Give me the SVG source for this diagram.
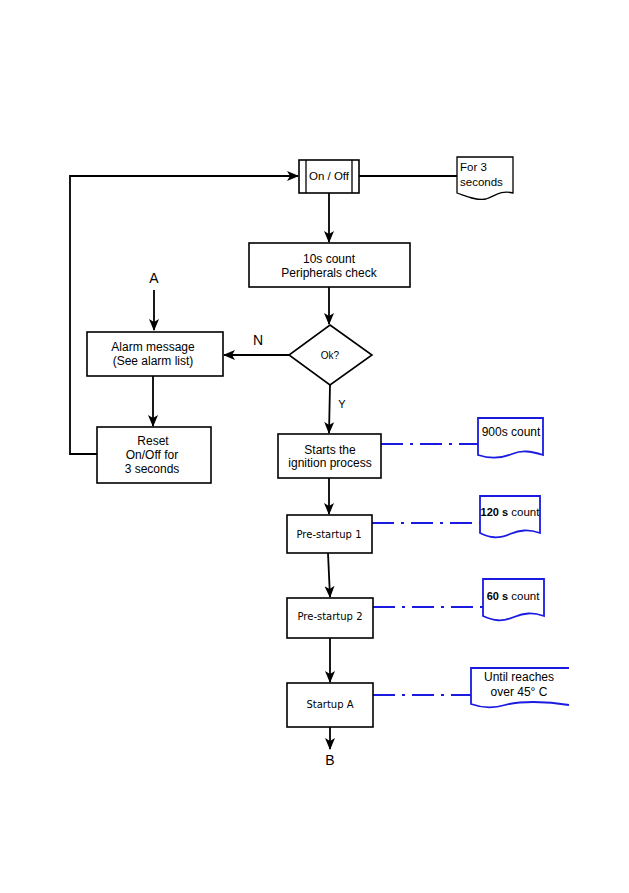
<svg xmlns="http://www.w3.org/2000/svg" width="629" height="893" viewBox="0 0 629 893">
<style>
.box{fill:#fff;stroke:#000;stroke-width:1.6}
.doc{fill:#fff;stroke:#000;stroke-width:1.3}
.bdoc{fill:#fff;stroke:#1a1ae0;stroke-width:1.8}
.ln{fill:none;stroke:#000;stroke-width:1.8}
.dd{fill:none;stroke:#1a1ae0;stroke-width:1.8;stroke-dasharray:22 7 3 7}
text{font-family:"Liberation Sans",Arial,sans-serif;font-size:12px;fill:#000;text-anchor:middle}
.dv{font-family:"DejaVu Sans",sans-serif;font-size:10px}
.lbl{font-size:14px}
</style>
<defs>
<marker id="ah" viewBox="0 0 12 10" refX="11" refY="5" markerWidth="12" markerHeight="10" markerUnits="userSpaceOnUse" orient="auto">
<path d="M0,0 L12,5 L0,10 L3,5 Z" fill="#000"/>
</marker>
</defs>
<rect width="629" height="893" fill="#fff"/>
<g id="connectors">
<path class="ln" d="M97,454 H70 V176 H298" marker-end="url(#ah)"/>
<path class="ln" d="M359,176 H457"/>
<path class="ln" d="M329,193 V242" marker-end="url(#ah)"/>
<path class="ln" d="M329,287 V324" marker-end="url(#ah)"/>
<path class="ln" d="M289,355 H224" marker-end="url(#ah)"/>
<path class="ln" d="M154,290 V330" marker-end="url(#ah)"/>
<path class="ln" d="M153,376 V426" marker-end="url(#ah)"/>
<path class="ln" d="M330,385 L329,433" marker-end="url(#ah)"/>
<path class="ln" d="M329,478 V514" marker-end="url(#ah)"/>
<path class="ln" d="M328,553 L330,597" marker-end="url(#ah)"/>
<path class="ln" d="M330,638 V682" marker-end="url(#ah)"/>
<path class="ln" d="M330,727 V749" marker-end="url(#ah)"/>
<path class="dd" d="M381,444 H478"/>
<path class="dd" d="M372,523 H480"/>
<path class="dd" d="M373,607 H483"/>
<path class="dd" d="M373,695 H471"/>
</g>
<g id="onoff">
<rect class="box" x="299" y="160" width="60" height="33"/>
<path class="ln" d="M306,160 V193 M352,160 V193" style="stroke-width:1.3"/>
<text x="329" y="180" style="font-size:11.5px">On / Off</text>
</g>
<g id="doc-3s">
<path class="doc" d="M457,157 H513 V193 C500,190 495,196 486,199 C476,201 466,196 457,193 Z"/>
<text x="460" y="171" style="text-anchor:start;font-size:11.5px">For 3</text>
<text x="460" y="186" style="text-anchor:start;font-size:11.5px">seconds</text>
</g>
<g id="count10">
<rect class="box" x="249" y="243" width="161" height="44"/>
<text x="329" y="263">10s count</text>
<text x="329" y="277">Peripherals check</text>
</g>
<g id="ok">
<path class="box" d="M330,325 L372,355 L330,385 L289,355 Z"/>
<text x="330" y="359" style="font-size:10px">Ok?</text>
</g>
<g id="labelN"><text class="lbl" x="258" y="345">N</text></g>
<g id="labelY"><text x="342" y="408" style="font-size:11px">Y</text></g>
<g id="labelA"><text class="lbl" x="154" y="283">A</text></g>
<g id="alarm">
<rect class="box" x="87" y="332" width="136" height="44"/>
<text x="153" y="351">Alarm message</text>
<text x="153" y="365">(See alarm list)</text>
</g>
<g id="reset">
<rect class="box" x="97" y="427" width="114" height="56"/>
<text x="153" y="445">Reset</text>
<text x="152" y="459">On/Off for</text>
<text x="152" y="473">3 seconds</text>
</g>
<g id="starts">
<rect class="box" x="278" y="434" width="103" height="44"/>
<text x="330" y="454">Starts the</text>
<text x="330" y="467">ignition process</text>
</g>
<g id="doc-900">
<path class="bdoc" d="M478,418 H543 V455 C530,451 522,450 512,454 C500,459 490,459 478,455 Z"/>
<text x="511" y="436">900s count</text>
</g>
<g id="pre1">
<rect class="box" x="287" y="515" width="85" height="38"/>
<text class="dv" x="329" y="538">Pre-startup 1</text>
</g>
<g id="doc-120">
<path class="bdoc" d="M480,496 H540 V533 C528,529 520,530 510,534 C498,539 490,538 480,533 Z"/>
<text x="510" y="516" style="font-size:11.5px"><tspan font-weight="bold" style="font-size:11px">120 s</tspan> count</text>
</g>
<g id="pre2">
<rect class="box" x="287" y="598" width="86" height="40"/>
<text class="dv" x="330" y="620">Pre-startup 2</text>
</g>
<g id="doc-60">
<path class="bdoc" d="M483,579 H544 V616 C532,612 524,613 514,617 C502,622 494,621 483,616 Z"/>
<text x="513" y="600" style="font-size:11.5px"><tspan font-weight="bold" style="font-size:11px">60 s</tspan> count</text>
</g>
<g id="startupA">
<rect class="box" x="287" y="683" width="86" height="44"/>
<text class="dv" x="330" y="708" style="font-weight:500">Startup A</text>
</g>
<g id="labelB"><text class="lbl" x="330" y="765">B</text></g>
<g id="doc-45">
<path class="bdoc" d="M569,668 H471 V704 C482,708 492,709 505,705 C520,701 545,701 569,705"/>
<text x="519" y="681">Until reaches</text>
<text x="519" y="696">over 45° C</text>
</g>
</svg>
